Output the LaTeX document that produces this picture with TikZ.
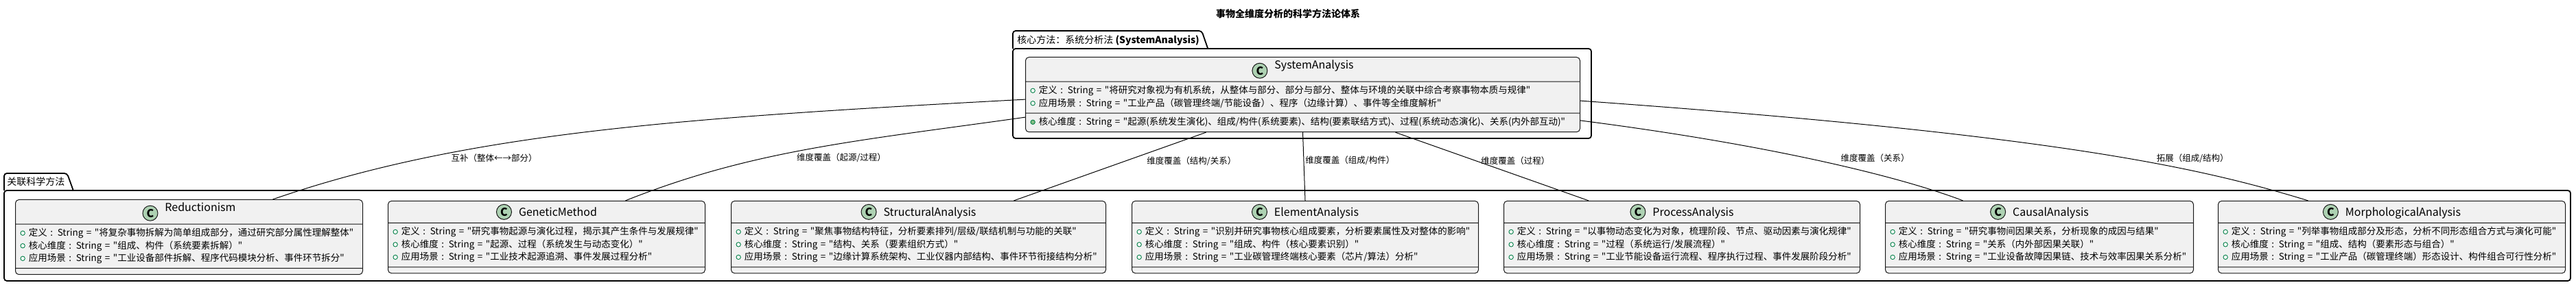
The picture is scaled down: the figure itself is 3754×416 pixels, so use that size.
\documentclass[tikz,border=0pt]{standalone}
\usepackage{fontspec}
\setmainfont{Noto Sans CJK SC}[Ligatures=TeXOff]
\usepackage{tikz}
\usetikzlibrary{positioning, shapes.multipart}

\definecolor{classfill}{HTML}{F1F1F1}
\definecolor{classline}{HTML}{181818}
\definecolor{spotgreen}{HTML}{ADD1B2}
\definecolor{fieldgreen}{HTML}{038048}
\definecolor{methodgreen}{HTML}{84BE84}

\newcommand{\fieldfont}{\fontsize{6.75}{9.25}\selectfont}
\newcommand{\fieldicon}{\tikz[baseline=-0.6ex]\draw[fieldgreen, line width=0.45pt, fill=white] (0,0) circle (1.6pt);}
\newcommand{\methodicon}{\tikz[baseline=-0.6ex]\draw[fieldgreen, line width=0.45pt, fill=methodgreen] (0,0) circle (1.6pt);}
\newcommand{\fld}[1]{\mbox{\fieldicon\hspace{2.5pt}#1}\strut}
\newcommand{\mtd}[1]{\mbox{\methodicon\hspace{2.5pt}#1}\strut}
\newcommand{\cname}[1]{\hbox to\hsize{\hss\fontsize{8}{10}\selectfont
    \tikz[baseline=-0.65ex]\node[circle, draw=classline, fill=spotgreen, line width=0.5pt,
        inner sep=0pt, minimum size=11pt, font=\bfseries\fontsize{8}{8}\selectfont]{C};%
    \hspace{5pt}#1\hss}}

\begin{document}
\begin{tikzpicture}[
    x=0.5pt, y=-0.5pt,
    every node/.style={inner sep=0pt},
    umlclass/.style={
        rectangle split, rectangle split parts=3,
        draw=classline, fill=classfill, line width=0.5pt,
        rounded corners=2.5pt,
        inner xsep=3.5pt, inner ysep=2pt,
        rectangle split empty part height=0pt,
        rectangle split empty part depth=0pt,
        font=\fieldfont
    },
    pkg/.style={draw=black, line width=0.9pt, rounded corners=2pt},
    pkgname/.style={font=\fontsize{7}{8}\selectfont, anchor=base west},
    rel/.style={line width=0.5pt},
    rellabel/.style={font=\fontsize{6.25}{7}\selectfont, anchor=west},
]
\useasboundingbox (0,0) rectangle (3754,416);

\node[font=\bfseries\fontsize{7}{8}\selectfont] (title) at (1877,20) {事物全维度分析的科学方法论体系};

% ── package: 核心方法 ──
\node[pkgname] (coretab) at (1482,64) {核心方法：系统分析法 \textbf{(SystemAnalysis)}};
\draw[pkg] (1476,71) rectangle (2319,202);
\draw[pkg] (1476,71) |- ([xshift=1.5pt]coretab.east |- 0,45) -- ([xshift=6pt]coretab.east |- 0,71);

% ── package: 关联科学方法 ──
\node[pkgname] (reltab) at (10,271) {关联科学方法};
\draw[pkg] (6,278) rectangle (3746,410);
\draw[pkg] (6,278) |- ([xshift=1.5pt]reltab.east |- 0,253) -- ([xshift=6pt]reltab.east |- 0,278);

% ── SystemAnalysis ──
\node[umlclass, text width=397pt, anchor=north west] (sys) at (1494,83) {%
    \cname{SystemAnalysis}
    \nodepart{two}
    \fld{定义 : String = "将研究对象视为有机系统，从整体与部分、部分与部分、整体与环境的关联中综合考察事物本质与规律"}\\
    \fld{应用场景 : String = "工业产品（碳管理终端/节能设备）、程序（边缘计算）、事件等全维度解析"}
    \nodepart{three}
    \mtd{核心维度 : String = "起源(系统发生演化)、组成/构件(系统要素)、结构(要素联结方式)、过程(系统动态演化)、关系(内外部互动)"}
};

% ── Reductionism ──
\node[umlclass, text width=246pt, anchor=north west] (red) at (22,291) {%
    \cname{Reductionism}
    \nodepart{two}
    \fld{定义 : String = "将复杂事物拆解为简单组成部分，通过研究部分属性理解整体"}\\
    \fld{核心维度 : String = "组成、构件（系统要素拆解）"}\\
    \fld{应用场景 : String = "工业设备部件拆解、程序代码模块分析、事件环节拆分"}
    \nodepart{three}
};

% ── GeneticMethod ──
\node[umlclass, text width=224pt, right=18pt of red] (gen) {%
    \cname{GeneticMethod}
    \nodepart{two}
    \fld{定义 : String = "研究事物起源与演化过程，揭示其产生条件与发展规律"}\\
    \fld{核心维度 : String = "起源、过程（系统发生与动态变化）"}\\
    \fld{应用场景 : String = "工业技术起源追溯、事件发展过程分析"}
    \nodepart{three}
};

% ── StructuralAnalysis ──
\node[umlclass, text width=266pt, right=18.5pt of gen] (struc) {%
    \cname{StructuralAnalysis}
    \nodepart{two}
    \fld{定义 : String = "聚焦事物结构特征，分析要素排列/层级/联结机制与功能的关联"}\\
    \fld{核心维度 : String = "结构、关系（要素组织方式）"}\\
    \fld{应用场景 : String = "边缘计算系统架构、工业仪器内部结构、事件环节衔接结构分析"}
    \nodepart{three}
};

% ── ElementAnalysis ──
\node[umlclass, text width=245.5pt, right=18.5pt of struc] (elem) {%
    \cname{ElementAnalysis}
    \nodepart{two}
    \fld{定义 : String = "识别并研究事物核心组成要素，分析要素属性及对整体的影响"}\\
    \fld{核心维度 : String = "组成、构件（核心要素识别）"}\\
    \fld{应用场景 : String = "工业碳管理终端核心要素（芯片/算法）分析"}
    \nodepart{three}
};

% ── ProcessAnalysis ──
\node[umlclass, text width=252.5pt, right=18pt of elem] (proc) {%
    \cname{ProcessAnalysis}
    \nodepart{two}
    \fld{定义 : String = "以事物动态变化为对象，梳理阶段、节点、驱动因素与演化规律"}\\
    \fld{核心维度 : String = "过程（系统运行/发展流程）"}\\
    \fld{应用场景 : String = "工业节能设备运行流程、程序执行过程、事件发展阶段分析"}
    \nodepart{three}
};

% ── CausalAnalysis ──
\node[umlclass, text width=217.5pt, right=18pt of proc] (causal) {%
    \cname{CausalAnalysis}
    \nodepart{two}
    \fld{定义 : String = "研究事物间因果关系，分析现象的成因与结果"}\\
    \fld{核心维度 : String = "关系（内外部因果关联）"}\\
    \fld{应用场景 : String = "工业设备故障因果链、技术与效率因果关系分析"}
    \nodepart{three}
};

% ── MorphologicalAnalysis ──
\node[umlclass, text width=246pt, right=17.5pt of causal] (morph) {%
    \cname{MorphologicalAnalysis}
    \nodepart{two}
    \fld{定义 : String = "列举事物组成部分及形态，分析不同形态组合方式与演化可能"}\\
    \fld{核心维度 : String = "组成、结构（要素形态与组合）"}\\
    \fld{应用场景 : String = "工业产品（碳管理终端）形态设计、构件组合可行性分析"}
    \nodepart{three}
};

% ── Relationships ──
\draw[rel] ([yshift=-3.5pt]sys.west) .. controls (994,172) and (681,193) .. ([xshift=61pt]red.north)
    node[rellabel, pos=0.75, xshift=19.5pt] {互补（整体←→部分）};
\draw[rel] ([yshift=-16.5pt]sys.west) .. controls (1247,206) and (1097,219) .. ([xshift=57.5pt]gen.north)
    node[rellabel, pos=0.6, xshift=17.5pt, yshift=-1.25pt] {维度覆盖（起源/过程）};
\draw[rel] ([xshift=-70.5pt]sys.south) -- ([xshift=69.5pt]struc.north)
    node[rellabel, pos=0.42, xshift=15.5pt] {维度覆盖（结构/关系）};
\draw[rel] (sys.south) -- (elem.north)
    node[rellabel, pos=0.41, xshift=1pt] {维度覆盖（组成/构件）};
\draw[rel] ([xshift=67.5pt]sys.south) -- ([xshift=-68pt]proc.north)
    node[rellabel, pos=0.42, xshift=3pt] {维度覆盖（过程）};
\draw[rel] ([yshift=-18.9pt]sys.east) .. controls (2599,214) and (2780,262) .. ([xshift=-55.75pt]causal.north)
    node[rellabel, pos=0.45, xshift=24pt] {维度覆盖（关系）};
\draw[rel] ([yshift=-4.5pt]sys.east) .. controls (3002,197) and (3207,245) .. ([xshift=-61pt]morph.north)
    node[rellabel, pos=0.57, xshift=21.5pt] {拓展（组成/结构）};

\end{tikzpicture}
\end{document}
